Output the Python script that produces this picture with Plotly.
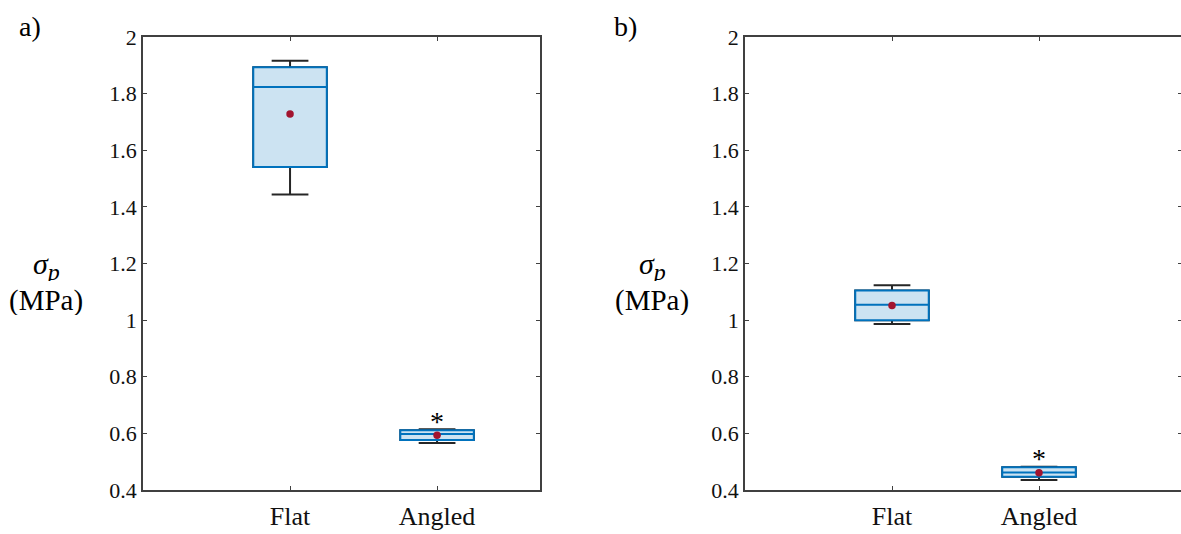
import plotly.graph_objects as go

# ---- data -------------------------------------------------------------
categories = ["Flat", "Angled"]

# panel a) peel strength statistics (MPa)
a_upper = [1.916, 0.615]
a_q3 = [1.893, 0.611]
a_median = [1.823, 0.598]
a_q1 = [1.541, 0.577]
a_lower = [1.444, 0.566]
a_mean = [1.728, 0.593]

# panel b) peel strength statistics (MPa)
b_upper = [1.123, 0.482]
b_q3 = [1.105, 0.480]
b_median = [1.054, 0.462]
b_q1 = [1.000, 0.447]
b_lower = [0.986, 0.435]
b_mean = [1.052, 0.461]

y_ticks = [0.4, 0.6, 0.8, 1.0, 1.2, 1.4, 1.6, 1.8, 2.0]
y_tick_text = ["0.4", "0.6", "0.8", "1", "1.2", "1.4", "1.6", "1.8", "2"]

# significance marker placed above the Angled group
a_star_y = 0.657
b_star_y = 0.527

# ---- styling ----------------------------------------------------------
W, H = 1181, 534
BOX_LINE = "#0072BD"
BOX_FILL = "#CCE3F2"
WHISKER = "#262626"
MEAN_CLR = "#A2142F"
AX_CLR = "#404040"
SERIF = "Liberation Serif"

xs = [i + 1 for i in range(len(categories))]

fig = go.Figure()


def add_panel(xa, ya, upper, q3, med, q1, lower, mean):
    # whiskers (dark) – box part gets covered by the coloured box below
    fig.add_trace(go.Box(
        x=xs, q1=q1, median=med, q3=q3, lowerfence=lower, upperfence=upper,
        width=0.5, whiskerwidth=0.5,
        line=dict(color=WHISKER, width=2), fillcolor="rgba(0,0,0,0)",
        boxpoints=False, showlegend=False, hoverinfo="skip",
        xaxis=xa, yaxis=ya,
    ))
    # coloured box with median
    fig.add_trace(go.Box(
        x=xs, q1=q1, median=med, q3=q3, lowerfence=q1, upperfence=q3,
        width=0.5, whiskerwidth=0,
        line=dict(color=BOX_LINE, width=2), fillcolor=BOX_FILL,
        boxpoints=False, showlegend=False,
        xaxis=xa, yaxis=ya,
    ))
    # mean markers
    fig.add_trace(go.Scatter(
        x=xs, y=mean, mode="markers",
        marker=dict(color=MEAN_CLR, size=7.5),
        showlegend=False, xaxis=xa, yaxis=ya,
    ))


add_panel("x", "y", a_upper, a_q3, a_median, a_q1, a_lower, a_mean)
add_panel("x2", "y2", b_upper, b_q3, b_median, b_q1, b_lower, b_mean)

y_dom = [(H - 490) / H, (H - 37) / H]
xa_common = dict(
    tickvals=xs, ticktext=categories, ticks="inside", ticklen=4, tickwidth=1,
    tickcolor=AX_CLR, showline=True, linecolor=AX_CLR, linewidth=1.5,
    showgrid=False, zeroline=False, mirror="ticks", automargin=False,
    tickfont=dict(family=SERIF, size=26, color="#111"), ticklabelstandoff=2,
)
ya_common = dict(
    range=[0.4, 2.0], tickvals=y_ticks, ticktext=y_tick_text,
    ticks="inside", ticklen=4, tickwidth=1, tickcolor=AX_CLR,
    showline=True, linecolor=AX_CLR, linewidth=1.5,
    showgrid=False, zeroline=False, domain=y_dom, automargin=False,
    tickfont=dict(family=SERIF, size=22, color="#111"), ticklabelstandoff=0,
)

fig.update_layout(
    width=W, height=H,
    margin=dict(l=0, r=0, t=0, b=0),
    paper_bgcolor="white", plot_bgcolor="white",
    font=dict(family=SERIF, color="#111"),
    boxmode="overlay",
    xaxis=dict(xa_common, domain=[143 / W, 540 / W], range=[0, 2.7], anchor="y"),
    yaxis=dict(ya_common, anchor="x", mirror="ticks"),
    xaxis2=dict(xa_common, domain=[745 / W, 1.0], range=[0, 436 / 147], anchor="y2"),
    yaxis2=dict(ya_common, anchor="x2", mirror=False),
    # right-hand ticks of panel b (its frame line lies beyond the page edge)
    yaxis3=dict(
        range=[0.4, 2.0], tickvals=y_ticks, ticks="inside", ticklen=3,
        tickwidth=1, tickcolor=AX_CLR, showline=False, showticklabels=False,
        showgrid=False, zeroline=False, overlaying="y2", anchor="x2",
        side="right", automargin=False,
    ),
)

# invisible trace so the right-hand tick axis is rendered
fig.add_trace(go.Scatter(x=[1], y=[1], mode="markers", opacity=0,
                         xaxis="x2", yaxis="y3", showlegend=False,
                         hoverinfo="skip"))


def px(x):
    return x / W


def py(y):
    return (H - y) / H


ylabel = ("<i>σ</i><sub><span style='font-size:24px'><i>p</i></span></sub>")
annotations = []
for cx, tag_x, tag in [(46, 17, "a)"), (652, 612, "b)")]:
    annotations.append(dict(x=px(cx), y=py(266), xref="paper", yref="paper",
                            text=ylabel, showarrow=False, height=30,
                            font=dict(family=SERIF, size=30, color="#000"),
                            xanchor="center", yanchor="middle"))
    annotations.append(dict(x=px(cx), y=py(300), xref="paper", yref="paper",
                            text="(MPa)", showarrow=False, height=30,
                            font=dict(family=SERIF, size=29, color="#000"),
                            xanchor="center", yanchor="middle"))
    annotations.append(dict(x=px(tag_x), y=py(26), xref="paper", yref="paper",
                            text=tag, showarrow=False,
                            font=dict(family=SERIF, size=28, color="#000"),
                            xanchor="left", yanchor="middle"))

annotations.append(dict(x=2, y=a_star_y, xref="x", yref="y", text="*",
                        showarrow=False, yshift=-4,
                        font=dict(family=SERIF, size=28, color="#000")))
annotations.append(dict(x=2, y=b_star_y, xref="x2", yref="y2", text="*",
                        showarrow=False, yshift=-4,
                        font=dict(family=SERIF, size=28, color="#000")))
fig.update_layout(annotations=annotations)

fig.write_html("out.html")
